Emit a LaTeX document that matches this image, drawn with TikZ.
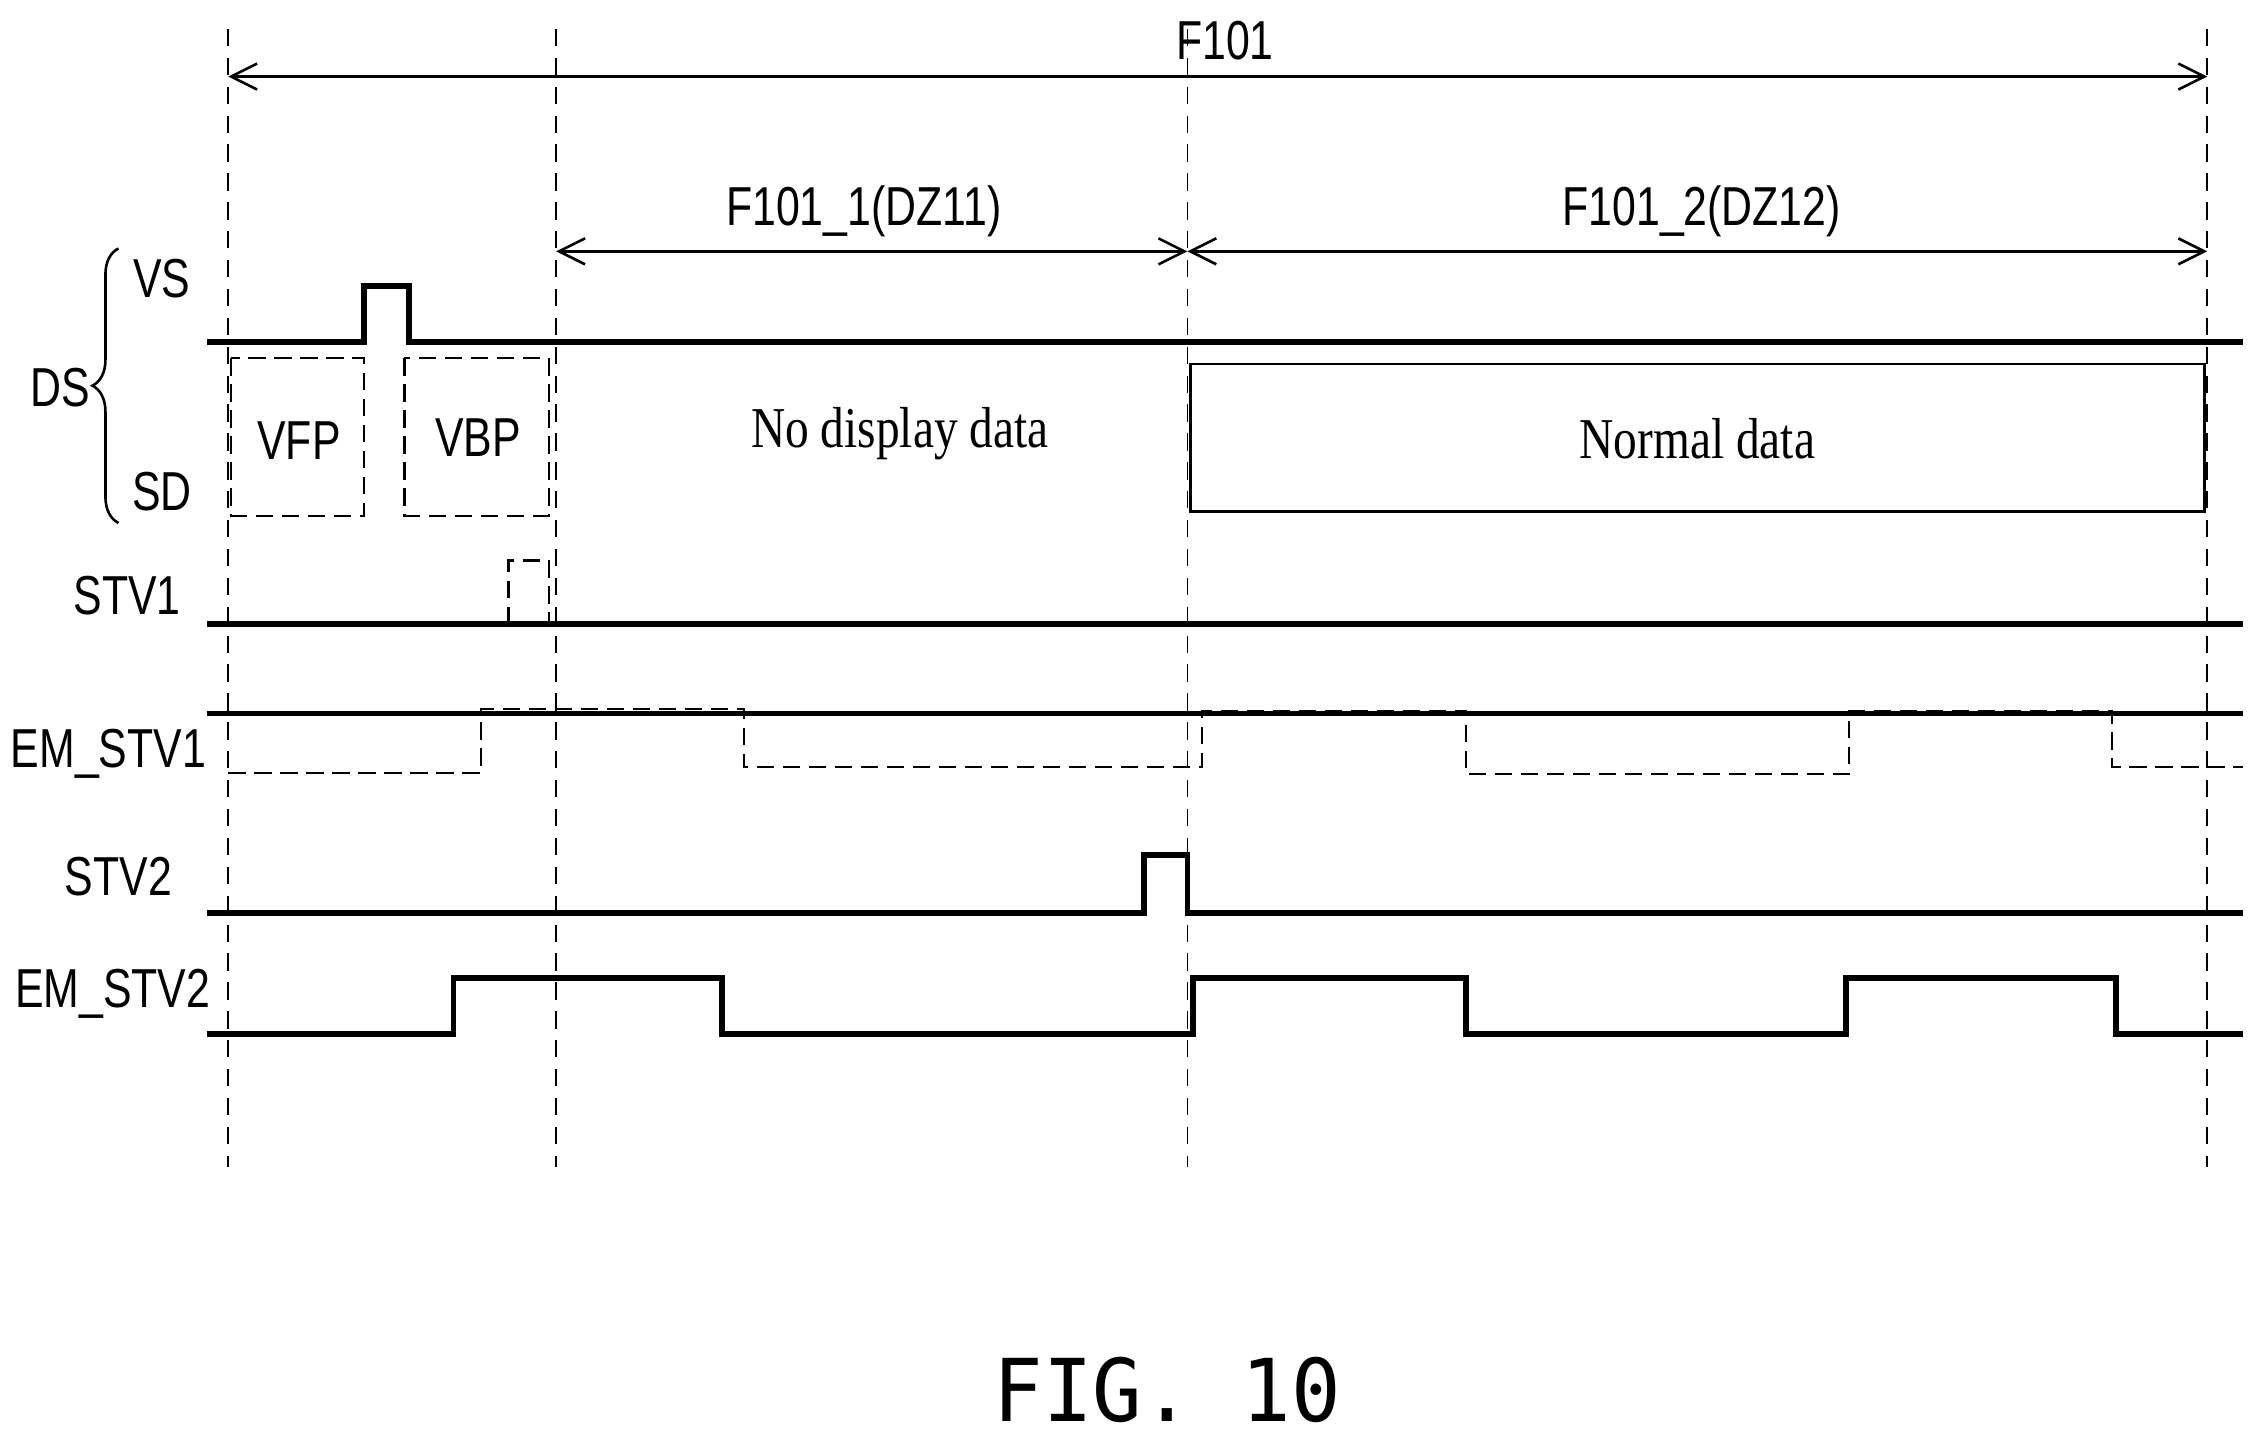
\documentclass[tikz,border=0pt]{standalone}
\usepackage{fontspec}
\setmainfont{Liberation Sans}
\newfontfamily\serifff{Liberation Serif}
\newfontfamily\monoff{DejaVu Sans Mono}
\usetikzlibrary{arrows.meta,decorations.pathreplacing}
\begin{document}
\begin{tikzpicture}[x=0.5pt,y=-0.5pt,
  sig/.style={line width=2pt},
  guide/.style={line width=0.6pt,dash pattern=on 6pt off 4pt},
  dsig/.style={line width=0.8pt,dash pattern=on 6pt off 3pt},
  dim/.style={line width=0.9pt,{Straight Barb[length=9pt,width=9pt]}-{Straight Barb[length=9pt,width=9pt]}},
  lab/.style={font=\fontsize{19}{22}\selectfont,xscale=0.78},
  ser/.style={font=\serifff\fontsize{20}{24}\selectfont,xscale=0.82}]
\useasboundingbox (0,0) rectangle (1568,1001);
\fill[white] (0,0) rectangle (1568,1001);
% guides
\foreach \x/\n in {158/ga,385/gb,822/gc,1528/gd}{
  \coordinate (\n t) at (\x,20); \coordinate (\n b) at (\x,808);
  \draw[guide] (\n t) -- (\n b);}
% dimensions
\coordinate (a1) at (158,53); \coordinate (a2) at (1528,53);
\draw[dim] (a1) -- (a2);
\node[lab] (f101) at (848,28) {F101};
\coordinate (b1) at (385,174); \coordinate (b2) at (822,174); \coordinate (b3) at (1528,174);
\draw[dim] (b1) -- (b2); \draw[dim] (b2) -- (b3);
\node[lab] (f1) at (598,146) {F101\_1(DZ11)};
\node[lab] (f2) at (1178,146) {F101\_2(DZ12)};
% labels
\node[lab] (vs) at (112,193) {VS};
\node[lab] (ds) at (42,268) {DS};
\node[lab] (sd) at (112,340) {SD};
\draw[line width=0.9pt,decorate,decoration={brace,amplitude=9pt}] (82,362) -- (82,172);
\node[lab] (stv1) at (88,412) {STV1};
\node[lab] (em1) at (75,522) {EM\_STV1};
\node[lab] (stv2) at (82,607) {STV2};
\node[lab] (em2) at (78,688) {EM\_STV2};
% VS
\draw[sig] (143,237) -- (252,237) -- (252,198) -- (283,198) -- (283,237) -- (1553,237);
\draw[dsig] (160,248) rectangle (252,357);
\draw[dsig] (280,248) rectangle (380,357);
\node[lab] (vfp) at (207,305) {VFP};
\node[lab] (vbp) at (331,303) {VBP};
\node[ser] (nd) at (623,300) {No display data};
\draw[line width=0.9pt] (824,252) rectangle (1526,354);
\node[ser] (norm) at (1175,304) {Normal data};
% STV1
\draw[sig] (143,432) -- (1553,432);
\draw[dsig] (352,432) -- (352,388) -- (380,388) -- (380,432);
% EM_STV1
\draw[sig] (143,494) -- (1553,494);
\draw[dsig] (158,535) -- (333,535) -- (333,491) -- (515,491) -- (515,531) -- (832,531) -- (832,492) -- (1015,492) -- (1015,536) -- (1280,536) -- (1280,492) -- (1462,492) -- (1462,531) -- (1553,531);
% STV2
\draw[sig] (143,632) -- (792,632) -- (792,592) -- (822,592) -- (822,632) -- (1553,632);
% EM_STV2
\draw[sig] (143,716) -- (314,716) -- (314,677) -- (500,677) -- (500,716) -- (826,716) -- (826,677) -- (1015,677) -- (1015,716) -- (1278,716) -- (1278,677) -- (1465,677) -- (1465,716) -- (1553,716);
\node[font=\monoff\fontsize{30}{34}\selectfont,xscale=0.95] (fig) at (808,962) {FIG. 10};
\end{tikzpicture}
\end{document}
